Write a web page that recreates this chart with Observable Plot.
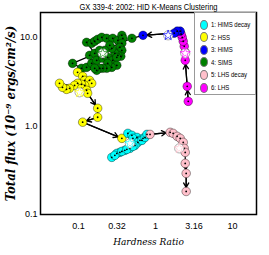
<!DOCTYPE html>
<html><head><meta charset="utf-8">
<script src="https://cdn.jsdelivr.net/npm/d3@7"></script>
<script src="https://cdn.jsdelivr.net/npm/@observablehq/plot@0.6"></script>
<style>
body{margin:0;background:#fff;}
#wrap{position:relative;width:269px;height:255px;}
#legend{position:absolute;left:194px;top:12px;width:62px;height:83px;border:1px solid #999;background:#fff;box-sizing:border-box;font-family:"Liberation Sans","DejaVu Sans",sans-serif;font-stretch:condensed;font-size:7.5px;color:#000;}
.item{position:absolute;left:5px;display:flex;align-items:center;height:11px;white-space:nowrap;}
.sw{width:8px;height:10px;border-radius:50%;border:0.8px solid #777;margin-right:3px;box-sizing:border-box;flex:none;}
.lb{display:inline-block;transform:scaleX(0.8);transform-origin:left center;}
</style></head>
<body><div id="wrap"><div id="legend"></div></div>
<script>
const title = "GX 339-4: 2002: HID K-Means Clustering";
const clusterNames = ["1: HIMS decay","2: HSS","3: HIMS","4: SIMS","5: LHS decay","6: LHS"];
const clusterColors = ["#00ffff","#ffff00","#0000ff","#008000","#ffc0cb","#ff00ff"];
const xTicks = [0.1, 0.316, 1, 3.16, 10];
const xTickLabels = ["0.1","0.32","1","3.16","10"];
const yTicks = [0.1, 1, 10];
const yTickLabels = ["0.1","1.0","10.0"];

// time-ordered observations
const cls = [
  6,6,6,6,6,6,6,6,
  3,3,3,3,
  4,4,4,4,4,4,4,4,4,4,4,4,4,4,4,4,4,4,4,4,4,4,4,4,4,4,4,4,4,4,4,4,4,4,4,4,4,4,4,4,
  2,2,2,2,2,2,2,2,2,2,2,2,2,2,2,2,2,2,2,2,
  1,1,1,1,1,1,1,1,1,1,1,1,1,1,1,1,1,1,1,1,
  5,5,5,5,5,5,5,5,5,5,5
];
const hardness = [
  2.66,2.58,2.43,2.43,2.36,2.29,2.22,2.15,
  2.09,1.91,1.745,0.687,
  0.493,0.0835,0.109,0.127,0.148,0.139,0.162,0.127,0.148,0.162,0.177,0.200,0.232,0.278,0.324,0.365,0.376,0.365,0.344,0.365,0.354,0.324,0.296,0.270,0.254,0.219,0.188,0.172,0.206,0.239,0.278,0.314,0.314,0.270,0.239,0.232,0.206,0.188,0.172,0.162,
  0.097,0.113,0.120,0.139,0.148,0.120,0.109,0.097,0.0887,0.0763,0.0697,0.0618,0.0565,0.109,0.127,0.131,0.177,0.177,0.113,0.365,
  0.437,0.493,0.573,0.508,0.627,0.687,0.590,0.540,0.464,0.399,0.344,0.314,0.270,0.296,0.365,0.424,0.508,0.666,0.730,0.774,
  0.848,1.548,1.693,1.910,2.09,2.29,2.36,2.43,2.43,2.50,2.50
];
const flux = [
  1.89,2.79,5.48,6.76,7.89,9.0,9.97,10.8,
  11.7,11.7,11.1,10.5,
  9.72,5.07,4.46,4.57,5.07,6.25,6.58,8.76,8.53,9.0,9.47,9.97,9.72,9.72,9.22,10.5,9.72,8.53,7.69,7.11,6.09,6.25,6.58,7.5,8.1,7.11,7.11,5.48,5.78,5.93,5.48,5.93,4.82,4.57,5.07,4.46,4.46,4.46,4.23,4.46,
  4.02,3.62,3.26,3.26,3.02,2.86,2.94,3.02,2.86,2.65,2.58,2.72,3.02,2.65,2.52,2.33,1.58,1.25,1.10,0.723,
  0.823,0.782,0.741,0.723,0.686,0.723,0.651,0.602,0.557,0.529,0.502,0.489,0.441,0.465,0.515,0.543,0.587,0.686,0.741,0.801,
  0.801,0.845,0.823,0.761,0.723,0.651,0.557,0.502,0.377,0.291,0.182
];
// segments drawn with an arrow head (index of start observation)
const arrowFrom = [0,1,10,67,69,70,92,100,101];

// cluster centroids
const centroidCls = [1,2,3,4,5,6];
const centroidHardness = [0.464,0.103,1.457,0.206,2.03,2.43];
const centroidFlux = [0.634,2.39,10.5,6.58,0.557,6.58];

const pts = cls.map((c,i)=>({cls:c, hr:hardness[i], flux:flux[i]}));
const segs = arrowFrom.map(i=>({x1:hardness[i],y1:flux[i],x2:hardness[i+1],y2:flux[i+1]}));
const cents = centroidCls.map((c,i)=>({cls:c, hr:centroidHardness[i], flux:centroidFlux[i]}));

const plot = Plot.plot({
  width: 269, height: 255,
  marginLeft: 40, marginRight: 13, marginTop: 12, marginBottom: 41,
  style: {fontFamily: '"Liberation Sans","DejaVu Sans",sans-serif', fontStretch: "condensed", fontSize: "9px", color: "#000", background: "#fff"},
  x: {type: "log", domain: [0.032, 20.5], ticks: xTicks, tickFormat: d => xTickLabels[xTicks.indexOf(d)], tickSize: 0, tickPadding: 8, label: null},
  y: {type: "log", domain: [0.1, 19], ticks: yTicks, tickFormat: d => yTickLabels[yTicks.indexOf(d)], tickSize: 0, tickPadding: 3, label: null},
  color: {type: "ordinal", domain: [1,2,3,4,5,6], range: clusterColors},
  marks: [
    Plot.line(pts, {x: "hr", y: "flux", stroke: "black", strokeWidth: 1.2}),
    Plot.arrow(segs, {x1: "x1", y1: "y1", x2: "x2", y2: "y2", stroke: "black", strokeWidth: 1.3, headLength: 6, insetEnd: 4}),
    Plot.dot(pts, {x: "hr", y: "flux", r: 4.3, fill: "cls", stroke: "#000", strokeOpacity: 0.55, strokeWidth: 0.7}),
    Plot.dot(pts, {x: "hr", y: "flux", r: 0.9, fill: "black"}),
    Plot.dot(cents, {x: "hr", y: "flux", r: 4.6, fill: "white", stroke: "#999", strokeWidth: 0.8}),
    Plot.dot(cents, {x: "hr", y: "flux", r: 3.2, symbol: "star", fill: "none", stroke: "cls", strokeWidth: 0.7}),
    Plot.frame({stroke: "black", strokeWidth: 1.5}),
    Plot.text([title], {frameAnchor: "top", dy: -6, textAnchor: "middle", lineAnchor: "middle", fontSize: 9.5}),
    Plot.text(["Hardness Ratio"], {frameAnchor: "bottom", dy: 27, textAnchor: "middle", lineAnchor: "middle", fontFamily: '"DejaVu Serif",serif', fontStyle: "italic", fontSize: 10}),
    Plot.text(["Total flux (10\u207B\u2079 ergs/cm\u00B2/s)"], {frameAnchor: "left", dx: -30, rotate: -90, textAnchor: "middle", lineAnchor: "middle", fontFamily: '"DejaVu Serif",serif', fontStyle: "italic", fontWeight: "bold", fontSize: 13})
  ]
});
document.getElementById("wrap").prepend(plot);
// condense title to the reference width
plot.querySelectorAll("text").forEach(t => {
  if (t.textContent === title) { t.setAttribute("textLength", 138); t.setAttribute("lengthAdjust", "spacingAndGlyphs"); }
});

const legend = document.getElementById("legend");
clusterNames.forEach((name,i)=>{
  const it = document.createElement("div");
  it.className = "item";
  it.style.top = (6 + i*12.6) + "px";
  const sw = document.createElement("span");
  sw.className = "sw";
  sw.style.background = clusterColors[i];
  it.appendChild(sw);
  const t = document.createElement("span");
  t.className = "lb";
  t.textContent = name;
  it.appendChild(t);
  legend.appendChild(it);
});
</script>
</body></html>
